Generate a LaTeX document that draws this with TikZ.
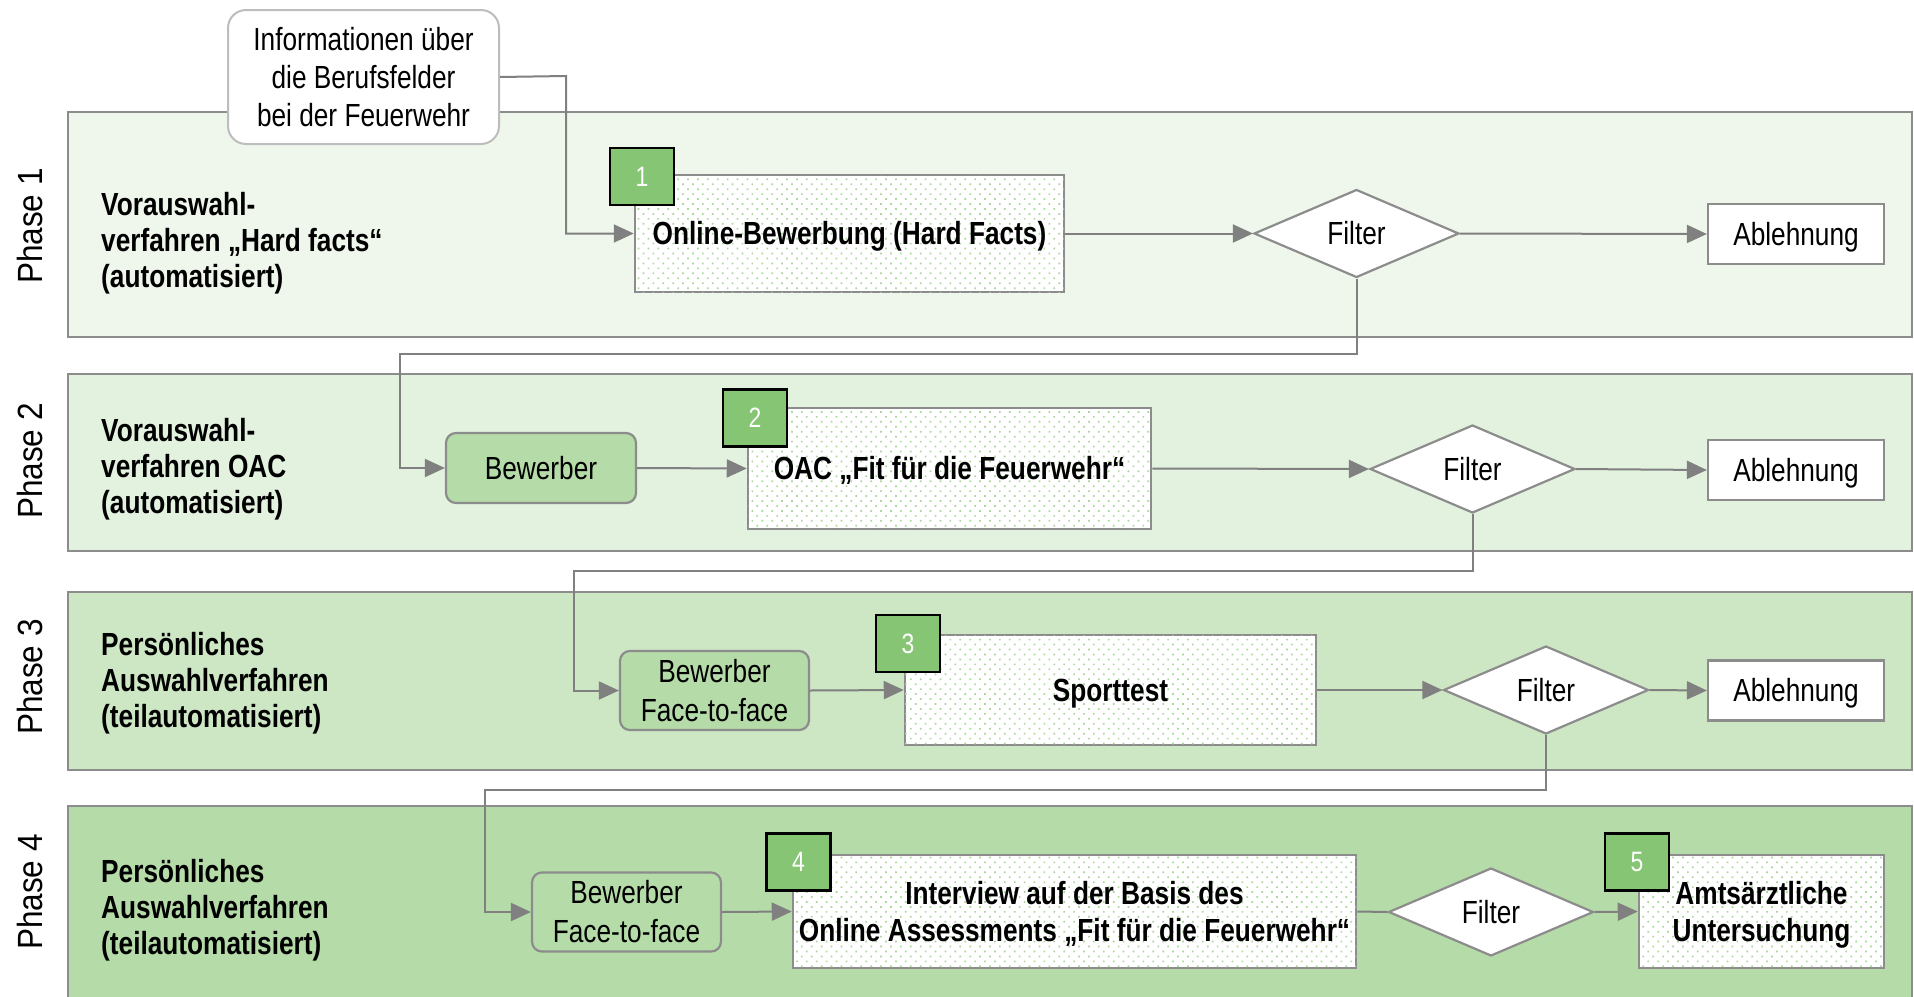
\documentclass[tikz,border=0pt]{standalone}
\usepackage{fontspec}
\setmainfont{Liberation Sans}[FakeStretch=0.82]
\newfontfamily\phasefont{Liberation Sans}[FakeStretch=0.9]
\usetikzlibrary{arrows.meta,shapes.geometric,patterns.meta}

\definecolor{bandA}{HTML}{EFF7EC}
\definecolor{bandB}{HTML}{E3F1DF}
\definecolor{bandC}{HTML}{CDE6C4}
\definecolor{bandD}{HTML}{B5DBA8}
\definecolor{frame}{HTML}{8C8C8C}
\definecolor{linec}{HTML}{808080}
\definecolor{badgec}{HTML}{86C574}
\definecolor{dotc}{HTML}{ACD79F}
\definecolor{infoframe}{HTML}{BDBDBD}

\newcommand\fsmain{\fontsize{32}{36}\selectfont}
\newcommand\fsstage{\fontsize{32}{37}\selectfont}
\newcommand\fsapp{\fontsize{32}{39}\selectfont}
\newcommand\fsinfo{\fontsize{32}{38}\selectfont}
\newcommand\fsbadge{\fontsize{28}{32}\selectfont}
\newcommand\fsphase{\fontsize{35}{38}\selectfont}
% struts that centre the capitals of a text block on its node
\newcommand\capstrutTop{\rule{0pt}{31.5pt}}
\newcommand\capstrutBot{\rule[-8.6pt]{0pt}{8.6pt}}

\tikzset{
  capcentred/.style={execute at begin node=\capstrutTop, execute at end node=\capstrutBot},
  band/.style={draw=frame, line width=2.5pt},
  stage/.style={draw=frame, line width=2.5pt, fill=white,
    postaction={pattern={Dots[distance=7pt,angle=45,radius=1.2pt]}, pattern color=dotc},
    inner sep=0pt, align=center, capcentred, font=\fsstage\bfseries},
  badgebox/.style={draw=black, line width=2.5pt, fill=badgec, text=white,
    minimum width=64pt, minimum height=57pt, inner sep=0pt, font=\fsbadge},
  filterbox/.style={diamond, draw=frame, line width=2.2pt, fill=white, inner sep=0pt,
    minimum width=205pt, minimum height=88pt, font=\fsmain},
  rejectbox/.style={draw=frame, line width=2.2pt, fill=white, inner sep=0pt,
    minimum width=176pt, minimum height=60pt, capcentred, font=\fsmain},
  applicant/.style={draw=frame, line width=2.2pt, rounded corners=10pt, inner sep=0pt,
    align=center, capcentred, font=\fsapp},
  phaselabel/.style={rotate=90, inner sep=0pt, font=\phasefont\fsphase},
  phasetext/.style={anchor=west, align=left, inner sep=0pt, capcentred, font=\fsmain\bfseries},
  conn/.style={draw=linec, line width=2pt},
  arr/.style={conn, -{Triangle[length=20pt,width=18pt]}},
}

\begin{document}
\begin{tikzpicture}[x=1pt, y=-1pt]
\useasboundingbox (0,0) rectangle (1914,996);

% phase bands
\draw[band, fill=bandA] (68,112) rectangle (1912,337);
\draw[band, fill=bandB] (68,374) rectangle (1912,551);
\draw[band, fill=bandC] (68,592) rectangle (1912,770);
\draw[band, fill=bandD] (68,806) rectangle (1912,1004);

% phase labels
\node[phaselabel] (ph1) at (30,226) {Phase 1};
\node[phaselabel] (ph2) at (30,461) {Phase 2};
\node[phaselabel] (ph3) at (30,677) {Phase 3};
\node[phaselabel] (ph4) at (30,892) {Phase 4};

% phase descriptions
\node[phasetext] (d1) at (101,240) {\capstrutTop Vorauswahl-\\verfahren „Hard facts“\\(automatisiert)};
\node[phasetext] (d2) at (101,466) {\capstrutTop Vorauswahl-\\verfahren OAC\\(automatisiert)};
\node[phasetext] (d3) at (101,680) {\capstrutTop Persönliches\\Auswahlverfahren\\(teilautomatisiert)};
\node[phasetext] (d4) at (101,907) {\capstrutTop Persönliches\\Auswahlverfahren\\(teilautomatisiert)};

% information box
\node[draw=infoframe, line width=2pt, fill=white, rounded corners=18pt,
      minimum width=271pt, minimum height=134pt, inner sep=0pt, align=center,
      capcentred, font=\fsinfo]
      (info) at (363.5,77) {\capstrutTop Informationen über\\die Berufsfelder\\bei der Feuerwehr};

% phase 1
\node[stage, minimum width=429pt, minimum height=117pt] (box1) at (849.5,233.5) {Online-Bewerbung (Hard Facts)};
\node[badgebox] (b1) at (642,176.5) {1};
\node[filterbox] (f1) at (1356.5,233.5) {Filter};
\node[rejectbox] (r1) at (1796,234) {Ablehnung};

% phase 2
\node[applicant, fill=bandD, minimum width=190pt, minimum height=70pt] (app2) at (541,468) {Bewerber};
\node[stage, minimum width=403pt, minimum height=121pt] (box2) at (949.5,468.5) {OAC „Fit für die Feuerwehr“};
\node[badgebox] (b2) at (755,418) {2};
\node[filterbox] (f2) at (1472.5,469) {Filter};
\node[rejectbox] (r2) at (1796,470) {Ablehnung};

% phase 3
\node[applicant, fill=bandD, minimum width=189pt, minimum height=77pt] (app3) at (714.5,690.5) {\capstrutTop Bewerber\\Face-to-face};
\node[stage, minimum width=411pt, minimum height=110pt] (box3) at (1110.5,690) {Sporttest};
\node[badgebox] (b3) at (908,643.5) {3};
\node[filterbox] (f3) at (1546,690) {Filter};
\node[rejectbox] (r3) at (1796,690.5) {Ablehnung};

% phase 4
\node[applicant, fill=bandD, minimum width=189pt, minimum height=76pt] (app4) at (626.5,912) {\capstrutTop Bewerber\\Face-to-face};
\node[stage, minimum width=563pt, minimum height=113pt] (box4) at (1074.5,911.5) {\capstrutTop Interview auf der Basis des\\Online Assessments „Fit für die Feuerwehr“};
\node[badgebox] (b4) at (798.5,862) {4};
\node[filterbox] (f4) at (1491,912) {Filter};
\node[stage, minimum width=245pt, minimum height=113pt] (box5) at (1761.5,911.5) {\capstrutTop Amtsärztliche\\Untersuchung};
\node[badgebox] (b5) at (1637,862) {5};

% bend points of the connectors
\coordinate (k0) at (566,76);
\coordinate (k1) at (400,354);
\coordinate (k2) at (574,571);
\coordinate (k3) at (485,790);

% connectors
\draw[arr] (info.east) -- (k0) |- (box1.west);
\draw[arr] (box1.east) -- (f1.west);
\draw[arr] (f1.east) -- (r1.west);
\draw[arr] (f1.south) |- (k1) |- (app2.west);

\draw[arr] (app2.east) -- (box2.west);
\draw[arr] (box2.east) -- (f2.west);
\draw[arr] (f2.east) -- (r2.west);
\draw[arr] (f2.south) |- (k2) |- (app3.west);

\draw[arr] (app3.east) -- (box3.west);
\draw[arr] (box3.east) -- (f3.west);
\draw[arr] (f3.east) -- (r3.west);
\draw[arr] (f3.south) |- (k3) |- (app4.west);

\draw[arr] (app4.east) -- (box4.west);
\draw[conn] (box4.east) -- (f4.west);
\draw[arr] (f4.east) -- (box5.west);
\end{tikzpicture}
\end{document}
